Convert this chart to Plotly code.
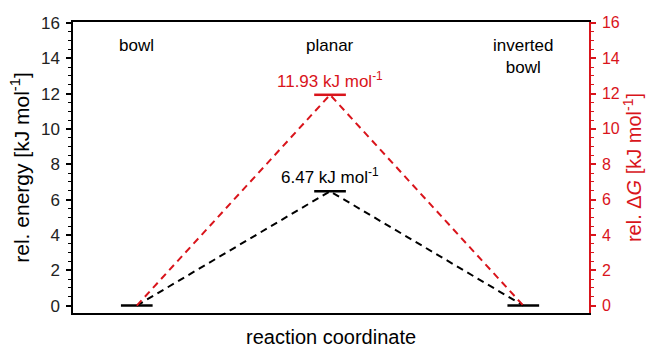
import plotly.graph_objects as go

states = ["bowl", "planar", "inverted<br>bowl"]
x_pos = [0, 1, 2]
energy = [0.0, 6.47, 0.0]
delta_g = [0.0, 11.93, 0.0]
y_ticks = [0, 2, 4, 6, 8, 10, 12, 14, 16]

RED = "#d9141b"
FONT = "Liberation Sans, Arial, sans-serif"
half = 0.082

fig = go.Figure()

# dashed connectors
fig.add_trace(go.Scatter(x=x_pos, y=energy, mode="lines",
                         line=dict(color="black", width=2, dash="7px,5px"),
                         yaxis="y", showlegend=False, hoverinfo="skip"))
fig.add_trace(go.Scatter(x=x_pos, y=delta_g, mode="lines",
                         line=dict(color=RED, width=2, dash="7px,5px"),
                         yaxis="y2", showlegend=False, hoverinfo="skip"))

# level bars
for i, (xp, e, g) in enumerate(zip(x_pos, energy, delta_g)):
    if i == 1:
        fig.add_trace(go.Scatter(x=[xp - half, xp + half], y=[g, g], mode="lines",
                                 line=dict(color=RED, width=2.5), yaxis="y2",
                                 showlegend=False, hoverinfo="skip"))
    fig.add_trace(go.Scatter(x=[xp - half, xp + half], y=[e, e], mode="lines",
                             line=dict(color="black", width=2.5), yaxis="y",
                             showlegend=False, hoverinfo="skip"))

annotations = []
for xp, s in zip(x_pos, states):
    annotations.append(dict(x=xp, y=1, xref="x", yref="paper", yshift=-12,
                            text=s, showarrow=False, yanchor="top",
                            font=dict(family=FONT, size=17, color="black")))

annotations.append(dict(x=x_pos[1], y=delta_g[1], xref="x", yref="y2",
                        text=f"{delta_g[1]:.2f} kJ mol<sup>-1</sup>", showarrow=False,
                        yanchor="bottom", yshift=2,
                        font=dict(family=FONT, size=17, color=RED)))
annotations.append(dict(x=x_pos[1], y=energy[1], xref="x", yref="y",
                        text=f"{energy[1]:.2f} kJ mol<sup>-1</sup>", showarrow=False,
                        yanchor="bottom", yshift=2,
                        font=dict(family=FONT, size=17, color="black")))
annotations.append(dict(x=0.5, y=0, xref="paper", yref="paper",
                        text="reaction coordinate", showarrow=False,
                        yanchor="top", yshift=-11,
                        font=dict(family=FONT, size=20, color="black")))

yr = [-0.42, 16.05]
fig.update_layout(
    width=654, height=351,
    margin=dict(l=73, r=62, t=22, b=38),
    plot_bgcolor="white", paper_bgcolor="white",
    font=dict(family=FONT),
    annotations=annotations,
    xaxis=dict(range=[-0.33, 2.34], showticklabels=False, ticks="",
               showgrid=False, zeroline=False, automargin=False,
               showline=True, linecolor="black", linewidth=1.5, mirror=True),
    yaxis=dict(range=yr, tickvals=y_ticks, ticks="outside", ticklen=5,
               tickwidth=1.5, tickcolor="black", ticklabelstandoff=3,
               minor=dict(dtick=0.5, ticks="outside", ticklen=3, tickcolor="black", tickwidth=1.2),
               showgrid=False, zeroline=False,
               showline=True, linecolor="black", linewidth=1.5,
               tickfont=dict(family=FONT, size=17, color="#222"),
               title=dict(text="rel. energy [kJ mol<sup>-1</sup>]", standoff=6,
                          font=dict(family=FONT, size=21, color="black"))),
    yaxis2=dict(range=yr, tickvals=y_ticks, ticks="outside", ticklen=5,
                tickwidth=1.5, tickcolor=RED, overlaying="y", side="right",
                ticklabelstandoff=3,
                minor=dict(dtick=0.5, ticks="outside", ticklen=3, tickcolor=RED, tickwidth=1.2),
                showgrid=False, zeroline=False,
                showline=True, linecolor=RED, linewidth=1.5,
                tickfont=dict(family=FONT, size=16, color=RED),
                title=dict(text="rel. Δ<i>G</i> [kJ mol<sup>-1</sup>]", standoff=8,
                           font=dict(family=FONT, size=20, color=RED))),
)

fig.write_html("out.html")
